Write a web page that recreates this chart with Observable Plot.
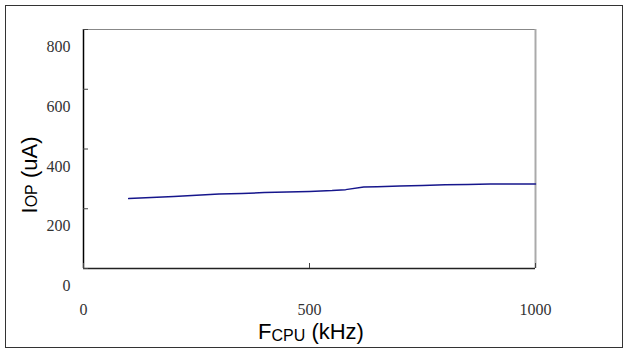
<!DOCTYPE html>
<html>
<head>
<meta charset="utf-8">
<script src="https://cdn.jsdelivr.net/npm/d3@7"></script>
<script src="https://cdn.jsdelivr.net/npm/@observablehq/plot@0.6"></script>
<style>
  html, body { margin: 0; padding: 0; background: #fff; }
  #wrap { position: relative; width: 626px; height: 349px; overflow: hidden; }
  #border { position: absolute; left: 5px; top: 5px; width: 616px; height: 341px; border: 1.5px solid #333; pointer-events: none; }
</style>
</head>
<body>
<div id="wrap"><div id="border"></div></div>
<script>
// Data
const freqKHz = [100, 150, 200, 250, 300, 350, 400, 450, 500, 550, 580, 620, 650, 700, 750, 800, 850, 900, 950, 1000];
const iopUA   = [234, 238, 241, 245, 249, 251, 254, 256, 258, 261, 264, 273, 274, 276, 278, 280, 281, 283, 283, 283];
const xTicks = [0, 500, 1000];
const yTicks = [0, 200, 400, 600, 800];
const xTitle = ["F", "CPU", " (kHz)"];
const yTitle = ["I", "OP", " (uA)"];

const data = freqKHz.map((f, i) => ({f, v: iopUA[i]}));
const tickFont = "'Liberation Serif', 'Times New Roman', serif";
const fmt = d => String(d);

const chart = Plot.plot({
  width: 626,
  height: 349,
  marginLeft: 83,
  marginRight: 91,
  marginTop: 29,
  marginBottom: 81,
  x: {domain: [0, 1000]},
  y: {domain: [0, 800]},
  style: {background: "transparent", overflow: "visible"},
  marks: [
    Plot.ruleY([800], {stroke: "#888", strokeWidth: 1}),
    Plot.ruleX([1000], {stroke: "#aaa", strokeWidth: 2}),
    Plot.ruleX([0], {stroke: "#000", strokeWidth: 1.5}),
    Plot.ruleY([0], {stroke: "#222", strokeWidth: 1.5}),
    Plot.axisY(yTicks, {tickSize: -5, fill: "none", label: null, stroke: "#444"}),
    Plot.axisY(yTicks, {tickSize: 0, tickPadding: 13, dy: 17.5, label: null, fill: "#333",
      fontFamily: tickFont, fontSize: 16, tickFormat: fmt}),
    Plot.axisX(xTicks, {tickSize: -5, fill: "none", label: null, stroke: "#444"}),
    Plot.axisX(xTicks, {tickSize: 0, tickPadding: 35, label: null, fill: "#333",
      fontFamily: tickFont, fontSize: 16, tickFormat: fmt}),
    Plot.line(data, {x: "f", y: "v", stroke: "#16168c", strokeWidth: 1.5})
  ]
});

const svg = d3.select(chart);
const sans = "'Liberation Sans', Arial, sans-serif";
// X axis title
const xt = svg.append("text")
  .attr("x", 311).attr("y", 339)
  .attr("text-anchor", "middle")
  .attr("font-family", sans).attr("font-size", 22).attr("fill", "#000");
xt.append("tspan").text(xTitle[0]);
xt.append("tspan").attr("font-size", 16).attr("dy", 1.5).text(xTitle[1]);
xt.append("tspan").attr("dy", -1.5).text(xTitle[2]);
// Y axis title
const yt = svg.append("text")
  .attr("transform", "translate(37,175) rotate(-90)")
  .attr("text-anchor", "middle")
  .attr("font-family", sans).attr("font-size", 22).attr("fill", "#000");
yt.append("tspan").text(yTitle[0]);
yt.append("tspan").attr("font-size", 16).text(yTitle[1]);
yt.append("tspan").text(yTitle[2]);

document.getElementById("wrap").prepend(chart);
</script>
</body>
</html>
